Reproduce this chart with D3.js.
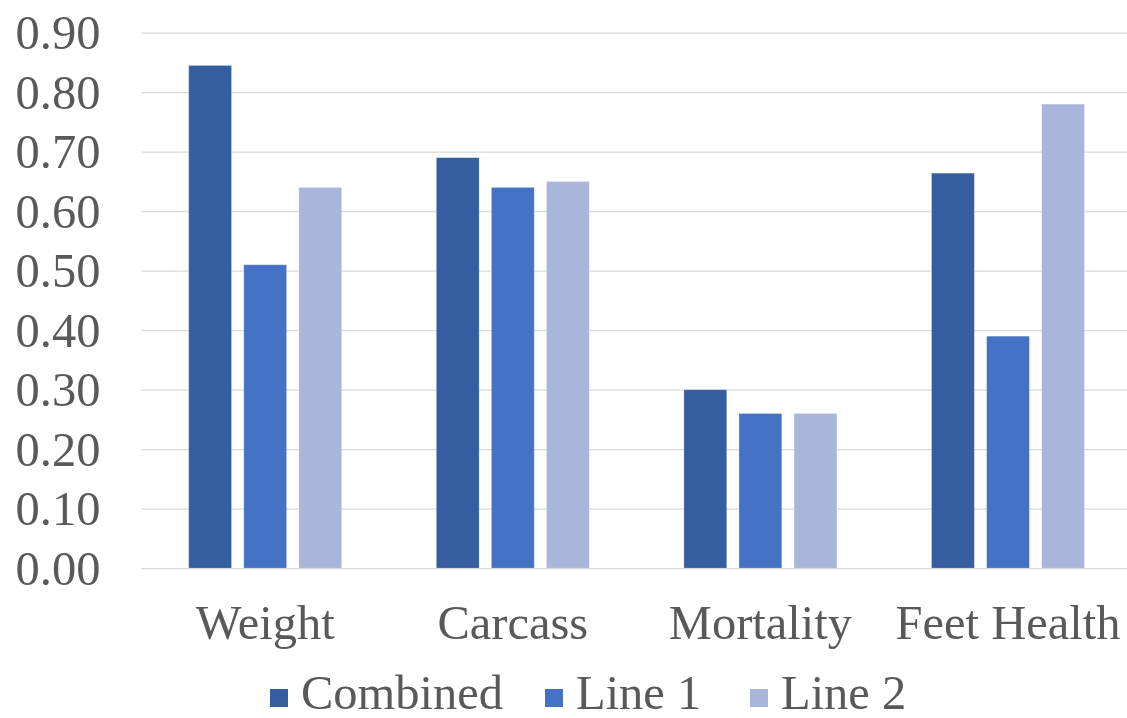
<!DOCTYPE html>
<html>
<head>
<meta charset="utf-8">
<script src="https://cdn.jsdelivr.net/npm/d3@7"></script>
<style>
  html, body { margin: 0; padding: 0; background: #ffffff; }
  svg { display: block; }
</style>
</head>
<body>
<svg id="chart" width="1127" height="718"></svg>
<script>
// Trait correlations grouped by trait
const categories = ["Weight", "Carcass", "Mortality", "Feet Health"];
const seriesNames = ["Combined", "Line 1", "Line 2"];
const combined = [0.845, 0.69, 0.30, 0.664];
const line1 = [0.51, 0.64, 0.26, 0.39];
const line2 = [0.64, 0.65, 0.26, 0.78];
const yTicks = [0, 0.1, 0.2, 0.3, 0.4, 0.5, 0.6, 0.7, 0.8, 0.9];

const seriesValues = [combined, line1, line2];
const colors = ["#355ea0", "#4472c4", "#a8b6db"];

const svg = d3.select("#chart");
const W = 1127;
const plot = { left: 141.4, right: 1131.8, top: 32.7, bottom: 568.2 };
const fontSize = 48.5;
const fontFamily = "Liberation Serif";
const textColor = "#595959";

const y = d3.scaleLinear().domain([0, 0.9]).range([plot.bottom, plot.top]);
const x0 = d3.scaleBand().domain(categories).range([plot.left, plot.right]).padding(0);
const x1 = d3.scaleBand().domain(seriesNames).range([47.3, 200.3]).paddingInner(0.222).paddingOuter(0);
const color = d3.scaleOrdinal().domain(seriesNames).range(colors);

function styleText(sel) {
  sel.attr("font-family", fontFamily).attr("font-size", fontSize).attr("fill", textColor);
}

// Horizontal gridlines and value labels
const yAxis = d3.axisLeft(y)
  .tickValues(yTicks)
  .tickFormat(d3.format(".2f"))
  .tickSizeInner(-(W - plot.left))
  .tickSizeOuter(0)
  .tickPadding(41);

const gy = svg.append("g").attr("transform", `translate(${plot.left},0)`).call(yAxis);
gy.attr("font-family", fontFamily).attr("font-size", fontSize);
gy.select(".domain").remove();
gy.selectAll(".tick line").attr("stroke", "#d9d9d9").attr("stroke-width", 1.3);
gy.selectAll(".tick text").call(styleText).attr("dy", "0.33em");

// Bars
const rows = categories.map((c, i) => ({ category: c, values: seriesNames.map((s, j) => ({ series: s, value: seriesValues[j][i] })) }));

const groups = svg.append("g").selectAll("g")
  .data(rows)
  .join("g")
  .attr("transform", d => `translate(${x0(d.category)},0)`);

groups.selectAll("rect")
  .data(d => d.values)
  .join("rect")
  .attr("x", d => x1(d.series))
  .attr("width", x1.bandwidth())
  .attr("y", d => y(d.value))
  .attr("height", d => y(0) - y(d.value))
  .attr("fill", d => color(d.series))
  .attr("stroke", "#ffffff")
  .attr("stroke-opacity", 0.35)
  .attr("stroke-width", 0.8);

// Category axis
const xAxis = d3.axisBottom(x0).tickSize(0).tickSizeOuter(0).tickPadding(36.4);
const gx = svg.append("g").attr("transform", `translate(0,${plot.bottom})`).call(xAxis);
gx.attr("font-family", fontFamily).attr("font-size", fontSize);
gx.select(".domain").attr("stroke", "#d9d9d9").attr("stroke-width", 1.3);
gx.selectAll(".tick text").call(styleText);

// Legend: swatch then label, entries laid out left to right
const legendX = [270, 545, 750];
const swatch = 18;
const legend = svg.append("g").attr("class", "legend");
seriesNames.forEach((name, i) => {
  const item = legend.append("g");
  item.append("rect")
    .attr("x", legendX[i]).attr("y", 689)
    .attr("width", swatch).attr("height", swatch)
    .attr("fill", color(name));
  item.append("text")
    .attr("x", legendX[i] + swatch + 13)
    .attr("y", 709)
    .call(styleText)
    .text(name);
});
</script>
</body>
</html>
